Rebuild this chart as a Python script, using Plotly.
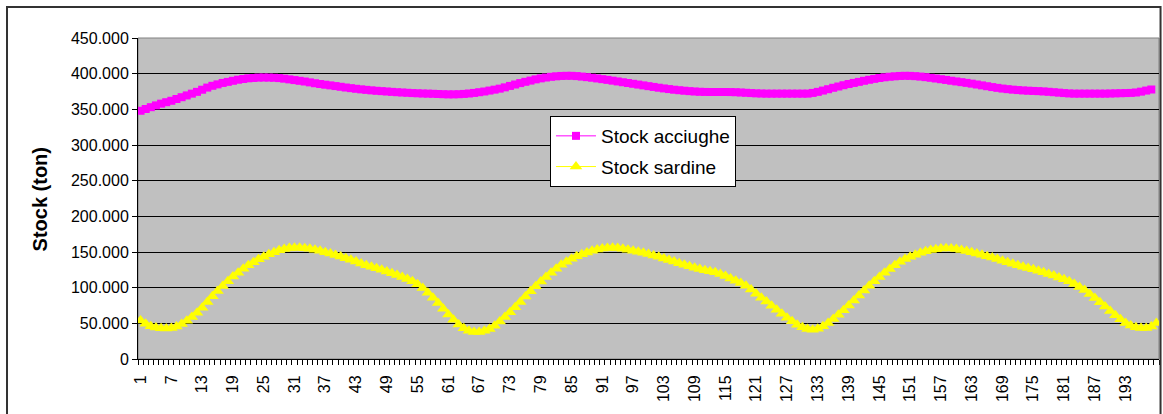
import plotly.graph_objects as go

# Periods (categories 1..199)
periods = list(range(1, 200))

# Anchovy stock (tons) per period
stock_acciughe = [
    348000, 350500, 353000, 355500, 358000, 360000, 362000, 364500, 367000, 369500,
    372000, 374500, 377500, 380500, 383000, 385000, 387000, 388500, 390000, 391500,
    392500, 393500, 394000, 394500, 394600, 394500, 394300, 393800, 393000, 392000,
    391000, 390000, 389000, 387800, 386600, 385500, 384500, 383600, 382600, 381600,
    380600, 379700, 378800, 378000, 377300, 376600, 376000, 375500, 375000, 374500,
    374000, 373600, 373200, 372800, 372500, 372200, 372000, 371800, 371500, 371200,
    371000, 371000, 371200, 371600, 372200, 373000, 374000, 375000, 376300, 377600,
    379000, 380800, 382800, 384800, 386800, 388600, 390300, 392000, 393400, 394600,
    395600, 396300, 396800, 397000, 397000, 396600, 395900, 395100, 394300, 393300,
    392300, 391300, 390200, 389100, 388000, 386900, 385800, 384700, 383600, 382500,
    381400, 380300, 379300, 378400, 377500, 376800, 376100, 375500, 375000, 374600,
    374400, 374300, 374300, 374300, 374300, 374200, 374000, 373600, 373200, 372800,
    372400, 372200, 372000, 372000, 372000, 372000, 372000, 372000, 372000, 372000,
    372000, 373000, 374500, 376300, 378200, 380200, 382000, 383800, 385500, 387000,
    388500, 390000, 391400, 392700, 393900, 394900, 395700, 396300, 396800, 397000,
    396900, 396500, 395900, 395100, 394200, 393200, 392200, 391200, 390100, 389100,
    388100, 387100, 386000, 384800, 383600, 382400, 381200, 380100, 379100, 378300,
    377600, 377000, 376500, 376100, 375800, 375500, 375100, 374600, 374000, 373400,
    372800, 372300, 372000, 372000, 372000, 372000, 372000, 372000, 372000, 372200,
    372400, 372600, 372800, 373000, 373600, 374800, 376300, 377800,
]

# Sardine stock (tons) per period
stock_sardine = [
    54000, 49500, 46000, 44000, 43000, 42600, 43300, 45500, 49000, 53500,
    59000, 65000, 72000, 80000, 88000, 95500, 102500, 109000, 115500, 121000,
    126500, 131300, 135800, 140000, 143500, 146800, 149800, 152500, 154300, 155500,
    156000, 156000, 155400, 154400, 153200, 151600, 149800, 147800, 145800, 143600,
    141400, 139000, 136600, 134000, 131600, 129400, 127200, 125000, 122600, 120200,
    117800, 115000, 112000, 109000, 104800, 99500, 93000, 86000, 78500, 70500,
    62500, 55000, 48500, 43000, 39500, 38000, 38000, 39500, 42000, 46500,
    52500, 59000, 65500, 72500, 80000, 87500, 95000, 102000, 108500, 115000,
    121000, 126500, 132000, 136500, 140500, 144000, 146800, 149400, 151700, 153600,
    154900, 155700, 156000, 155600, 154500, 153200, 151800, 150500, 149000, 147300,
    145200, 143200, 141000, 138800, 136600, 134400, 132200, 130000, 127800, 126000,
    124400, 123000, 121600, 119000, 116200, 113000, 109800, 106400, 102800, 97400,
    91600, 86000, 80500, 74800, 69200, 63400, 58000, 52800, 48000, 44500,
    42000, 41000, 42400, 45800, 50500, 56000, 62000, 68500, 75000, 82000,
    89000, 96000, 102600, 109000, 115000, 120800, 126200, 131500, 136500, 140200,
    143400, 146200, 148800, 151000, 152800, 154000, 154800, 155200, 155000, 154200,
    152800, 151400, 149800, 148000, 146200, 144200, 142200, 140100, 137900, 135600,
    133400, 131300, 129400, 127600, 125800, 123800, 121600, 119300, 116900, 114400,
    111900, 109000, 105200, 101000, 96600, 91200, 85400, 79600, 73600, 67300,
    61200, 55600, 50600, 47000, 44500, 43400, 43300, 45500, 50300,
]

x_tick_vals = list(range(1, 199, 6))
x_tick_text = [str(v) for v in x_tick_vals]
y_tick_vals = list(range(0, 450001, 50000))

FONT = "Arial, Liberation Sans, sans-serif"

fig = go.Figure()
fig.add_trace(go.Scatter(
    x=periods, y=stock_acciughe, name="Stock acciughe",
    mode="lines+markers", legendgroup="a",
    line=dict(color="#FF00FF", width=1),
    marker=dict(symbol="square", size=8, color="#FF00FF",
                line=dict(color="#FF00FF", width=0)),
))
fig.add_trace(go.Scatter(
    x=periods, y=stock_sardine, name="Stock sardine",
    mode="lines+markers", legendgroup="s",
    line=dict(color="#FFFF00", width=1),
    marker=dict(symbol="triangle-up", size=11, color="#FFFF00",
                line=dict(color="#FFFF00", width=0)),
))

fig.update_layout(
    width=1163, height=414,
    margin=dict(l=138, r=4, t=38, b=55),
    paper_bgcolor="white",
    plot_bgcolor="#C0C0C0",
    separators=",.",
    font=dict(family=FONT, color="black", size=16),
    showlegend=True,
    legend=dict(
        x=0.4035, y=0.757, xanchor="left", yanchor="top",
        bgcolor="white", bordercolor="black", borderwidth=1,
        font=dict(family=FONT, size=19, color="black"),
        itemwidth=40, tracegroupgap=3, traceorder="grouped",
    ),
    xaxis=dict(
        range=[0.5, 199.5],
        tickmode="array", tickvals=x_tick_vals, ticktext=x_tick_text,
        tickangle=-90, ticks="outside", ticklen=9, tickcolor="rgba(0,0,0,0)",
        tickfont=dict(family=FONT, size=16, color="black"),
        showgrid=False, zeroline=False,
        showline=True, linecolor="black", linewidth=1,
        minor=dict(tickmode="linear", tick0=0.5, dtick=1, ticks="outside",
                   ticklen=5, tickcolor="black", tickwidth=1, showgrid=False),
    ),
    yaxis=dict(
        range=[0, 450000],
        tickmode="array", tickvals=y_tick_vals, tickformat=",.0f",
        ticks="outside", ticklen=5, tickcolor="black",
        tickfont=dict(family=FONT, size=16, color="black"),
        showgrid=True, gridcolor="black", gridwidth=1,
        zeroline=False, showline=True, linecolor="black", linewidth=1,
    ),
    shapes=[
        # plot-area frame (top and right edges in grey)
        dict(type="rect", xref="paper", yref="paper", x0=0, x1=1, y0=0, y1=1,
             line=dict(color="#808080", width=1), layer="below"),
        # chart-area border
        dict(type="rect", xref="paper", yref="paper",
             x0=-0.1283, x1=1.0015, y0=-0.25, y1=1.0966,
             line=dict(color="#333333", width=2)),
    ],
    annotations=[
        dict(text="<b>Stock (ton)</b>", xref="paper", yref="paper",
             x=-0.096, y=0.497, textangle=-90, showarrow=False,
             font=dict(family=FONT, size=20, color="black"),
             xanchor="center", yanchor="middle"),
    ],
)

fig.write_html("out.html")
